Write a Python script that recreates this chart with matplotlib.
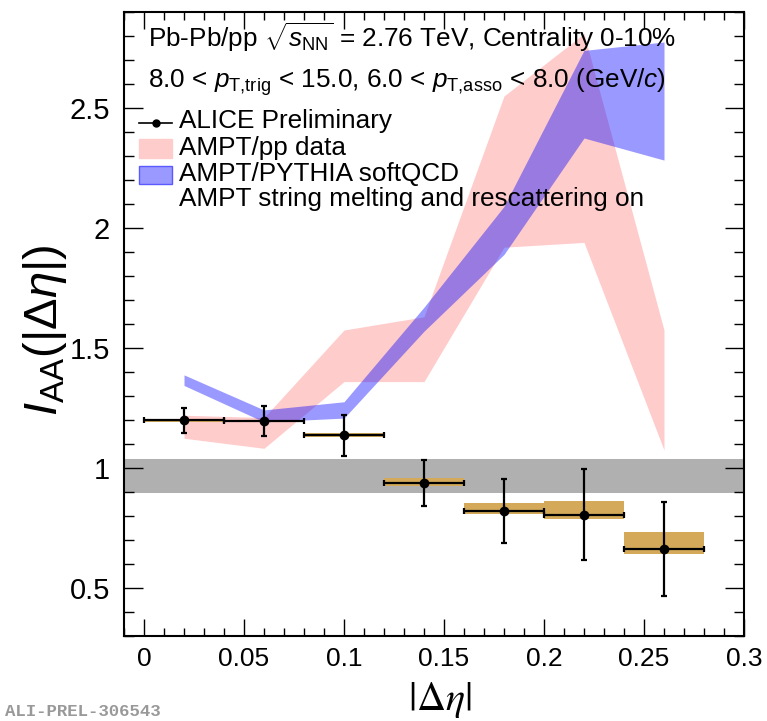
import matplotlib
matplotlib.use('Agg')
import matplotlib.pyplot as plt
from matplotlib.patches import Rectangle
from matplotlib.ticker import MultipleLocator, FixedLocator, FixedFormatter

plt.rcParams['font.family'] = ['Liberation Sans', 'DejaVu Sans']
plt.rcParams['mathtext.fontset'] = 'custom'
plt.rcParams['mathtext.rm'] = 'Liberation Sans'
plt.rcParams['mathtext.it'] = 'Liberation Sans:italic'
plt.rcParams['mathtext.bf'] = 'Liberation Sans:bold'

# ---------------- data ----------------
deta = [0.02, 0.06, 0.10, 0.14, 0.18, 0.22, 0.26]
deta_halfwidth = [0.02, 0.02, 0.02, 0.02, 0.02, 0.02, 0.02]
iaa = [1.198, 1.196, 1.136, 0.937, 0.821, 0.805, 0.663]
iaa_stat = [0.052, 0.063, 0.086, 0.096, 0.132, 0.19, 0.195]
iaa_sys_low = [1.193, 1.190, 1.128, 0.927, 0.810, 0.789, 0.642]
iaa_sys_high = [1.204, 1.201, 1.145, 0.960, 0.854, 0.862, 0.733]

ampt_pp_low = [1.124, 1.082, 1.36, 1.36, 1.92, 1.94, 1.075]
ampt_pp_high = [1.22, 1.21, 1.575, 1.63, 2.55, 2.81, 1.575]

ampt_pythia_low = [1.344, 1.192, 1.208, 1.57, 1.89, 2.375, 2.283]
ampt_pythia_high = [1.388, 1.242, 1.276, 1.67, 2.09, 2.74, 2.775]

ref_band = [0.894, 1.036]

xticks = [0, 0.05, 0.1, 0.15, 0.2, 0.25, 0.3]
xticklabels = ['0', '0.05', '0.1', '0.15', '0.2', '0.25', '0.3']
yticks = [0.5, 1.0, 1.5, 2.0, 2.5]
yticklabels = ['0.5', '1', '1.5', '2', '2.5']

header1 = r'Pb-Pb/pp $\sqrt{s_{\rm NN}}$ = 2.76 TeV, Centrality 0-10%'
header2 = r'8.0 < $p_{\rm T{,}trig}$ < 15.0, 6.0 < $p_{\rm T{,}asso}$ < 8.0 (GeV/$c$)'
legend_labels = ['ALICE Preliminary', 'AMPT/pp data', 'AMPT/PYTHIA softQCD',
                 'AMPT string melting and rescattering on']

# ---------------- figure ----------------
W, H = 767, 721
fig = plt.figure(figsize=(W / 100, H / 100), dpi=100)
L, R, T, B = 124, 744, 12, 636
ax = fig.add_axes([L / W, 1 - B / H, (R - L) / W, (B - T) / H])

pink = '#ffcccc'
blue = (0, 0, 1, 0.4)
orange = '#d4aa5a'

ax.axhspan(ref_band[0], ref_band[1], color='#b0b0b0', lw=0, zorder=1)
ax.fill_between(deta, ampt_pp_low, ampt_pp_high, color=pink, lw=0, zorder=2)
ax.fill_between(deta, ampt_pythia_low, ampt_pythia_high, color=blue, lw=0, zorder=3)

heights = [h - l for h, l in zip(iaa_sys_high, iaa_sys_low)]
ax.bar(deta, heights, bottom=iaa_sys_low, width=[2 * w for w in deta_halfwidth],
       color=orange, lw=0, zorder=4)
ax.errorbar(deta, iaa, xerr=deta_halfwidth, yerr=iaa_stat, fmt='o', color='k',
            ms=6, elinewidth=1.6, capsize=2, capthick=1.6, zorder=5)

ax.set_xlim(-0.01, 0.3)
ax.set_ylim(0.3, 2.9)
ax.xaxis.set_major_locator(FixedLocator(xticks))
ax.xaxis.set_major_formatter(FixedFormatter(xticklabels))
ax.yaxis.set_major_locator(FixedLocator(yticks))
ax.yaxis.set_major_formatter(FixedFormatter(yticklabels))
ax.xaxis.set_minor_locator(MultipleLocator(0.01))
ax.yaxis.set_minor_locator(MultipleLocator(0.1))
ax.tick_params(which='both', direction='in', top=True, right=True, width=1)
ax.tick_params(axis='x', which='major', length=12, pad=8, labelsize=19)
ax.tick_params(axis='x', which='minor', length=6)
ax.tick_params(axis='y', which='major', length=14, pad=10, labelsize=21)
ax.tick_params(axis='y', which='minor', length=7)
for sp in ax.spines.values():
    sp.set_linewidth(1.5)

ax.set_xlabel(r'$|\Delta\eta|$', fontsize=29, math_fontfamily='stix')
ax.xaxis.label.set_va('center')
ax.xaxis.set_label_coords(0.51, (B - 700) / (B - T))
ax.set_ylabel(r'$I_{\rm AA}(|\Delta\eta|)$', fontsize=34)
ax.yaxis.label.set_va('center')
ax.yaxis.set_label_coords((45 - L) / (R - L), 0.49)


def fx(px):
    return (px - L) / (R - L)


def fy(py):
    return (B - py) / (B - T)


fs = 18.8
ax.text(fx(148), fy(46.7), header1, transform=ax.transAxes, fontsize=fs, va='baseline', zorder=6)
ax.text(fx(148), fy(87.3), header2, transform=ax.transAxes, fontsize=fs, va='baseline', zorder=6)
baselines = [128.3, 155, 180.5, 206]
for lab, yb in zip(legend_labels, baselines):
    ax.text(fx(179), fy(yb), lab, transform=ax.transAxes, fontsize=fs, va='baseline', zorder=6)

ax.plot([fx(139), fx(172)], [fy(122.7), fy(122.7)], color='k', lw=1.2, transform=ax.transAxes, zorder=6)
ax.plot([fx(155.5)], [fy(122.7)], 'o', color='k', ms=5, transform=ax.transAxes, zorder=6)
ax.add_patch(Rectangle((fx(139), fy(158)), fx(172) - fx(139), (158 - 139) / (B - T),
                       transform=ax.transAxes, fc=pink, ec=pink, lw=1, zorder=6))
ax.add_patch(Rectangle((fx(139), fy(184)), fx(172) - fx(139), (184 - 166) / (B - T),
                       transform=ax.transAxes, fc=blue, ec='#5a5aff', lw=1, zorder=6))

fig.text(5 / W, 1 - 712 / H, 'ALI-PREL-306543', family='Liberation Mono', weight='bold',
         color='#999999', fontsize=12.5, va='center', ha='left')

fig.savefig('out.png', dpi=100)
